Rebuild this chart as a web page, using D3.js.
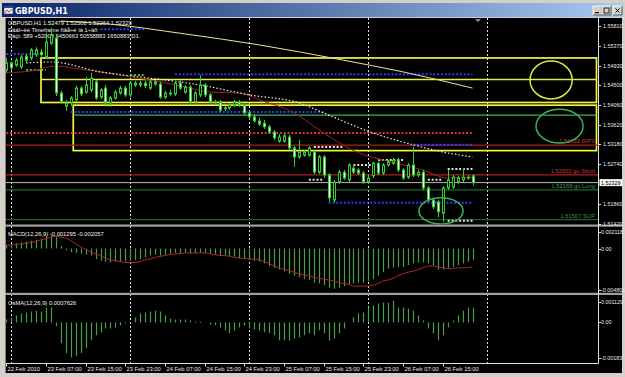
<!DOCTYPE html>
<html>
<head>
<meta charset="utf-8">
<script src="https://cdn.jsdelivr.net/npm/d3@7/dist/d3.min.js"></script>
<style>
  html, body { margin: 0; padding: 0; background: #d4d0c8; overflow: hidden; }
  svg { display: block; font-family: "Liberation Sans", Arial, sans-serif; }
</style>
</head>
<body>
<div id="chart"></div>
<script>
'use strict';

// ---- values (GBPUSD H1, bar 0 = 22 Feb 23:00) ----
var opens = [1.5483,1.5499,1.5494,1.5490,1.5514,1.5510,1.5517,1.5523,1.5512,1.5543,
  1.5554,1.5432,1.5403,1.5410,1.5417,1.5443,1.5434,1.5439,1.5457,1.5423,
  1.5443,1.5410,1.5421,1.5432,1.5443,1.5428,1.5454,1.5450,1.5454,1.5443,
  1.5457,1.5452,1.5423,1.5432,1.5430,1.5454,1.5434,1.5445,1.5412,1.5428,
  1.5450,1.5428,1.5410,1.5412,1.5399,1.5399,1.5405,1.5412,1.5405,1.5388,
  1.5379,1.5370,1.5365,1.5357,1.5345,1.5325,1.5325,1.5334,1.5310,1.5290,
  1.5294,1.5294,1.5301,1.5256,1.5290,1.5250,1.5194,1.5234,1.5256,1.5239,
  1.5265,1.5261,1.5254,1.5234,1.5248,1.5276,1.5254,1.5272,1.5276,1.5283,
  1.5261,1.5245,1.5272,1.5250,1.5256,1.5221,1.5194,1.5190,1.5165,1.5221,
  1.5223,1.5234,1.5239,1.5245,1.52479];
var highs = [1.5510,1.5503,1.5510,1.5517,1.5519,1.5532,1.5534,1.5530,1.5565,1.5577,
  1.5561,1.5437,1.5417,1.5425,1.5448,1.5448,1.5468,1.5477,1.5461,1.5443,
  1.5450,1.5425,1.5439,1.5448,1.5448,1.5459,1.5459,1.5459,1.5459,1.5463,
  1.5461,1.5457,1.5437,1.5439,1.5459,1.5461,1.5450,1.5450,1.5437,1.5472,
  1.5454,1.5432,1.5417,1.5417,1.5403,1.5410,1.5417,1.5417,1.5410,1.5392,
  1.5385,1.5377,1.5372,1.5361,1.5350,1.5341,1.5343,1.5339,1.5314,1.5328,
  1.5305,1.5314,1.5305,1.5294,1.5294,1.5254,1.5239,1.5261,1.5261,1.5276,
  1.5270,1.5265,1.5259,1.5248,1.5279,1.5279,1.5276,1.5283,1.5288,1.5288,
  1.5265,1.5276,1.5312,1.5261,1.5261,1.5225,1.5199,1.5194,1.5225,1.5261,
  1.5250,1.5248,1.5265,1.5250,1.52508];
var lows = [1.5477,1.5483,1.5490,1.5485,1.5501,1.5505,1.5512,1.5510,1.5508,1.5539,
  1.5425,1.5408,1.5392,1.5403,1.5412,1.5425,1.5430,1.5434,1.5417,1.5419,
  1.5405,1.5401,1.5417,1.5428,1.5423,1.5423,1.5445,1.5445,1.5443,1.5439,
  1.5448,1.5419,1.5419,1.5425,1.5425,1.5439,1.5430,1.5408,1.5408,1.5423,
  1.5423,1.5408,1.5405,1.5390,1.5392,1.5394,1.5401,1.5401,1.5383,1.5374,
  1.5366,1.5359,1.5352,1.5341,1.5328,1.5321,1.5321,1.5305,1.5268,1.5285,
  1.5290,1.5290,1.5252,1.5252,1.5243,1.5190,1.5188,1.5230,1.5239,1.5234,
  1.5252,1.5250,1.5230,1.5230,1.5243,1.5250,1.5250,1.5268,1.5272,1.5256,
  1.5239,1.5241,1.5245,1.5245,1.5216,1.5190,1.5174,1.5156,1.5145,1.5216,
  1.5219,1.5230,1.5234,1.5239,1.52264];
var closes = [1.5499,1.5488,1.5505,1.5512,1.5505,1.5528,1.5528,1.5517,1.5545,1.5561,
  1.5432,1.5412,1.5410,1.5421,1.5443,1.5430,1.5450,1.5465,1.5421,1.5439,
  1.5410,1.5421,1.5434,1.5443,1.5428,1.5454,1.5450,1.5454,1.5448,1.5457,
  1.5452,1.5423,1.5432,1.5430,1.5454,1.5443,1.5445,1.5412,1.5432,1.5450,
  1.5428,1.5412,1.5412,1.5394,1.5397,1.5405,1.5412,1.5405,1.5388,1.5379,
  1.5370,1.5363,1.5357,1.5345,1.5332,1.5334,1.5337,1.5310,1.5290,1.5301,
  1.5301,1.5310,1.5256,1.5290,1.5250,1.5199,1.5234,1.5256,1.5243,1.5272,
  1.5256,1.5254,1.5234,1.5243,1.5276,1.5254,1.5272,1.5279,1.5283,1.5261,
  1.5243,1.5272,1.5250,1.5256,1.5221,1.5194,1.5179,1.5168,1.5221,1.5239,
  1.5245,1.5243,1.5245,1.5243,1.52329];

var macdMain = [0.0004,0.0005,0.0006,0.0007,0.0008,0.0009,0.0010,0.0011,0.0014,0.0015,
  0.0013,0.0003,-0.0002,-0.0004,-0.0005,-0.0006,-0.0007,-0.0008,-0.0012,-0.0014,
  -0.0015,-0.0016,-0.0015,-0.0015,-0.0015,-0.0014,-0.0013,-0.0012,-0.0010,-0.0008,
  -0.0007,-0.0008,-0.0007,-0.0006,-0.0005,-0.0005,-0.0005,-0.0006,-0.0006,-0.0005,
  -0.0005,-0.0006,-0.0007,-0.0008,-0.0008,-0.0009,-0.0009,-0.0011,-0.0012,-0.0013,
  -0.0014,-0.0015,-0.0017,-0.0020,-0.0022,-0.0024,-0.0026,-0.0029,-0.0031,-0.0033,
  -0.0035,-0.0036,-0.0039,-0.0040,-0.0042,-0.0045,-0.0046,-0.0045,-0.0043,-0.0041,
  -0.0040,-0.0039,-0.0039,-0.0037,-0.0035,-0.0031,-0.0027,-0.0023,-0.0022,-0.0021,
  -0.0021,-0.0019,-0.0017,-0.0016,-0.0016,-0.0017,-0.0020,-0.0024,-0.0024,-0.0022,
  -0.0021,-0.0019,-0.0017,-0.0015,-0.0013];
var macdSignal = [0.0004,0.0004,0.0005,0.0005,0.0006,0.0007,0.0008,0.0010,0.0011,0.0013,
  0.0014,0.0013,0.0012,0.0009,0.0005,0.0002,-0.0001,-0.0004,-0.0006,-0.0008,
  -0.0011,-0.0013,-0.0014,-0.0015,-0.0016,-0.0016,-0.0016,-0.0015,-0.0013,-0.0012,
  -0.0010,-0.0009,-0.0008,-0.0007,-0.0006,-0.0006,-0.0005,-0.0005,-0.0005,-0.0005,
  -0.0005,-0.0006,-0.0007,-0.0008,-0.0008,-0.0009,-0.0010,-0.0011,-0.0011,-0.0012,
  -0.0012,-0.0013,-0.0015,-0.0017,-0.0020,-0.0022,-0.0024,-0.0025,-0.0027,-0.0029,
  -0.0030,-0.0031,-0.0033,-0.0034,-0.0035,-0.0036,-0.0037,-0.0039,-0.0040,-0.0041,
  -0.0043,-0.0043,-0.0043,-0.0043,-0.0042,-0.0040,-0.0037,-0.0036,-0.0034,-0.0031,
  -0.0029,-0.0027,-0.0026,-0.0024,-0.0022,-0.0020,-0.0020,-0.0021,-0.0022,-0.0023,
  -0.0023,-0.0022,-0.0022,-0.0022,-0.0021];
var osma = [0.00015,0.00026,0.00036,0.00046,0.00051,0.00056,0.00061,0.00056,0.00077,0.00077,
  -0.0002,-0.00107,-0.00158,-0.0018,-0.00173,-0.00158,-0.00133,-0.00092,-0.00066,-0.00051,
  -0.00031,-0.00031,-0.00026,-0.00015,-0.00005,0.00002,0.00026,0.00046,0.00051,0.00056,
  0.00061,0.00056,0.00036,0.0002,0.00015,0.00015,0.00015,0.0001,0.00005,0.00005,
  0.00001,-0.0001,-0.00015,-0.00026,-0.00041,-0.00056,-0.00041,-0.00026,-0.00015,-0.0003,
  -0.00036,-0.00041,-0.00051,-0.00056,-0.00066,-0.00092,-0.00092,-0.00092,-0.00082,-0.00077,
  -0.00066,-0.00056,-0.00066,-0.00041,-0.00056,-0.00092,-0.00082,-0.00056,-0.00031,-0.00001,
  0.00026,0.00046,0.00051,0.00077,0.00087,0.00097,0.00102,0.00102,0.00112,0.00077,
  0.00077,0.00071,0.00061,0.00036,0.0001,-0.00031,-0.00056,-0.00092,-0.00066,-0.00026,
  0.0001,0.00036,0.00061,0.00077,0.00076];

// moving averages, [bar, price]
var redMA = [[0,1.5477],[5,1.5481],[10,1.5492],[15,1.5485],[19,1.5479],[25,1.5468],[31,1.5457],
  [37,1.5443],[41,1.5434],[47,1.5432],[51,1.5417],[58,1.5388],[64,1.5343],[71,1.5299],
  [76,1.5283],[84,1.5261],[89,1.5243],[94,1.5245]];
var whiteMA = [[4,1.5499],[9,1.5501],[19,1.5479],[29,1.5465],[39,1.5450],[49,1.5428],[59,1.5410],
  [65,1.5383],[74,1.5343],[82,1.5317],[88,1.5301],[94,1.5290]];
var paleMA = [[11,1.5592],[21,1.5585],[35,1.5565],[51,1.5539],[68,1.5505],[80,1.5479],[94,1.5443]];

// horizontal lines with descriptions
var hLevels = [
  {price: 1.53163, text: '1.53163 RIPS', line: '#a82020', label: '#d03434'},
  {price: 1.52501, text: '1.52501 go Short', line: '#a82020', label: '#d03434'},
  {price: 1.52169, text: '1.52169 go Long', line: '#1f6a2a', label: '#3f9f5a'},
  {price: 1.51507, text: '1.51507 SUP', line: '#1f5f25', label: '#3a9450'}
];
var bidPrice = 1.52329;

// dotted level pieces: from bar, to bar, price
var dotLevels = [
  {from: 0, to: 7, price: 1.5519, color: '#2a3cff'},
  {from: 19, to: 28, price: 1.5574, color: '#2a3cff'},
  {from: 34, to: 94, price: 1.5474, color: '#2a3cff'},
  {from: 13, to: 64, price: 1.5390, color: '#2a3cff'},
  {from: 82, to: 94, price: 1.5317, color: '#2a3cff'},
  {from: 65, to: 94, price: 1.5188, color: '#2a3cff'},
  {from: 0, to: 94, price: 1.5343, color: '#e03030'},
  {from: 62, to: 68, price: 1.5312, color: '#e0e0e0'},
  {from: 61, to: 64, price: 1.5239, color: '#e0e0e0'},
  {from: 70, to: 74, price: 1.5272, color: '#e0e0e0'},
  {from: 75, to: 80, price: 1.5283, color: '#e0e0e0'},
  {from: 89, to: 94, price: 1.5263, color: '#e0e0e0'},
  {from: 89, to: 94, price: 1.5148, color: '#e0e0e0'},
  {from: 85, to: 88, price: 1.5239, color: '#e0e0e0'},
  {from: 4, to: 8, price: 1.5483, color: '#40c040'},
  {from: 25, to: 28, price: 1.5472, color: '#40c040'}
];

// drawn objects, anchored on bar / price
var boxes = [
  {from: 7, to: 119, top: 1.5510, bottom: 1.5411},
  {from: 13.5, to: 119, top: 1.5405, bottom: 1.5304}
];
var trendLines = [
  {from: 7, to: 119, price: 1.5462, color: '#e8f040'},
  {from: 13.5, to: 119, price: 1.5383, color: '#3cb05a'}
];
var ellipses = [
  {from: 105.6, to: 114.1, top: 1.5503, bottom: 1.5419, color: '#d4f048'},
  {from: 106.8, to: 116.3, top: 1.5396, bottom: 1.5321, color: '#3cb05a'},
  {from: 83.2, to: 92.1, top: 1.5199, bottom: 1.5141, color: '#3cb05a'}
];

var priceTicks = [1.55810, 1.55370, 1.54930, 1.54500, 1.54060, 1.53620, 1.53180, 1.52740, 1.51860, 1.51420];
var timeTicks = [[0, '22 Feb 2010'], [8, '23 Feb 07:00'], [16, '23 Feb 15:00'], [24, '23 Feb 23:00'],
  [32, '24 Feb 07:00'], [40, '24 Feb 15:00'], [48, '24 Feb 23:00'], [56, '25 Feb 07:00'],
  [64, '25 Feb 15:00'], [72, '25 Feb 23:00'], [80, '26 Feb 07:00'], [88, '26 Feb 15:00']];
var daySeparators = [1, 25, 49, 73, 97];
var macdTicks = [[0.002118, '0.002118'], [0, '0.00'], [-0.004801, '-0.004801']];
var osmaTicks = [[0.001129, '0.001129'], [0, '0.00'], [-0.00183, '-0.00183']];

var headerLines = [
  'GBPUSD,H1  1.52479 1.52508 1.52264 1.52329',
  'Ðàáî÷èé Timeframe ñâå÷è íà 1÷àñ',
  'Ðàçì: 589 +52000 3450663 50558883 1650883 D1.'
];

// ---- drawing ----
var W = 625, H = 377;
var svg = d3.select('#chart').append('svg').attr('width', W).attr('height', H);
var defs = svg.append('defs');

var grad = defs.append('linearGradient').attr('id', 'titlebar');
grad.append('stop').attr('offset', '0%').attr('stop-color', '#0a246a');
grad.append('stop').attr('offset', '100%').attr('stop-color', '#a6caf0');

function clip(id, y0, y1) {
  defs.append('clipPath').attr('id', id).append('rect')
    .attr('x', 6).attr('y', y0).attr('width', 592).attr('height', y1 - y0);
}
clip('clipMain', 18, 224.5);
clip('clipMacd', 227, 293);
clip('clipOsma', 295, 363);

// window frame + title bar
svg.append('rect').attr('width', W).attr('height', H).attr('fill', '#d4d0c8');
svg.append('rect').attr('x', 2).attr('y', 3).attr('width', 621).attr('height', 14).attr('fill', 'url(#titlebar)');
var icon = svg.append('g');
icon.append('rect').attr('x', 4).attr('y', 6).attr('width', 9).attr('height', 8).attr('fill', '#e8e8e8').attr('stroke', '#404040').attr('stroke-width', 0.6);
icon.append('rect').attr('x', 4).attr('y', 6).attr('width', 9).attr('height', 2).attr('fill', '#1c48a8');
icon.append('path').attr('d', 'M5,13 L7,10 L9,12 L12,9').attr('fill', 'none').attr('stroke', '#c02020').attr('stroke-width', 0.8);
svg.append('text').attr('x', 15).attr('y', 14).attr('fill', '#fff')
  .style('font', 'bold 8px "DejaVu Sans", sans-serif').text('GBPUSD,H1');

[593, 602, 613].forEach(function(bx, k) {
  var b = svg.append('g');
  b.append('rect').attr('x', bx).attr('y', 6).attr('width', 9).attr('height', 9).attr('fill', '#d4d0c8');
  b.append('path').attr('d', 'M' + bx + ',15 V6 H' + (bx + 9)).attr('stroke', '#fff').attr('fill', 'none').attr('stroke-width', 0.8);
  b.append('path').attr('d', 'M' + bx + ',15 H' + (bx + 9) + ' V6').attr('stroke', '#404040').attr('fill', 'none').attr('stroke-width', 0.8);
  if (k === 0) b.append('rect').attr('x', bx + 2).attr('y', 12).attr('width', 4).attr('height', 1.2).attr('fill', '#000');
  if (k === 1) b.append('rect').attr('x', bx + 2).attr('y', 8).attr('width', 5).attr('height', 5).attr('fill', 'none').attr('stroke', '#000').attr('stroke-width', 0.8);
  if (k === 2) b.append('path').attr('d', 'M' + (bx + 2.5) + ',8.5 l4,4 M' + (bx + 6.5) + ',8.5 l-4,4').attr('stroke', '#000').attr('stroke-width', 1);
});

// black chart surface
svg.append('rect').attr('x', 5).attr('y', 18).attr('width', 617).attr('height', 355).attr('fill', '#000');
svg.append('line').attr('x1', 5.5).attr('x2', 5.5).attr('y1', 18).attr('y2', 373).attr('stroke', '#808080');

var x = d3.scaleLinear().domain([0, 94]).range([6.3, 472.5]);
var y = d3.scaleLinear().domain([1.51420, 1.55810]).range([223.5, 26]);
var yMacd = d3.scaleLinear().domain([-0.004801, 0.002118]).range([290.5, 230]);
var yOsma = d3.scaleLinear().domain([-0.00183, 0.001129]).range([358, 300.5]);
function px(i) { return Math.round(x(i)) + 0.5; }

var bars = d3.range(opens.length).map(function(i) {
  return {i: i, o: opens[i], h: highs[i], l: lows[i], c: closes[i]};
});

// day separators through all panels
svg.selectAll('.sep').data(daySeparators).enter().append('line')
  .attr('x1', function(d) { return px(d); }).attr('x2', function(d) { return px(d); })
  .attr('y1', 18).attr('y2', 363)
  .attr('stroke', '#e0e0e0').attr('stroke-dasharray', '2,2');

var main = svg.append('g').attr('clip-path', 'url(#clipMain)');

// header text
main.selectAll('.hdr').data(headerLines).enter().append('text')
  .attr('x', 8).attr('y', function(d, k) { return 25 + k * 6.6; })
  .attr('fill', '#f0f0f0').style('font-size', '5.8px').text(function(d) { return d; });

// boxes and lines drawn on the chart
main.selectAll('.box').data(boxes).enter().append('rect')
  .attr('x', function(d) { return x(d.from); })
  .attr('y', function(d) { return y(d.top); })
  .attr('width', function(d) { return x(d.to) - x(d.from); })
  .attr('height', function(d) { return y(d.bottom) - y(d.top); })
  .attr('fill', 'none').attr('stroke', '#f4f440').attr('stroke-width', 1.7);

main.selectAll('.tl').data(trendLines).enter().append('line')
  .attr('x1', function(d) { return x(d.from); }).attr('x2', function(d) { return x(d.to); })
  .attr('y1', function(d) { return y(d.price); }).attr('y2', function(d) { return y(d.price); })
  .attr('stroke', function(d) { return d.color; }).attr('stroke-width', 1.4);

main.selectAll('.hl').data(hLevels).enter().append('line')
  .attr('x1', 6).attr('x2', 598)
  .attr('y1', function(d) { return y(d.price); }).attr('y2', function(d) { return y(d.price); })
  .attr('stroke', function(d) { return d.line; }).attr('stroke-width', 1.2);

main.selectAll('.hlt').data(hLevels).enter().append('text')
  .attr('x', 595).attr('y', function(d) { return y(d.price) - 2; })
  .attr('text-anchor', 'end').attr('fill', function(d) { return d.label; })
  .style('font-size', '5.8px').text(function(d) { return d.text; });

main.append('line').attr('x1', 6).attr('x2', 598)
  .attr('y1', y(bidPrice)).attr('y2', y(bidPrice))
  .attr('stroke', '#b8b8b8').attr('stroke-width', 1);

main.selectAll('.dl').data(dotLevels).enter().append('line')
  .attr('x1', function(d) { return x(d.from); }).attr('x2', function(d) { return x(d.to); })
  .attr('y1', function(d) { return y(d.price); }).attr('y2', function(d) { return y(d.price); })
  .attr('stroke', function(d) { return d.color; })
  .attr('stroke-width', 2).attr('stroke-dasharray', '2,1.8');

// moving averages
var maLine = d3.line().x(function(d) { return x(d[0]); }).y(function(d) { return y(d[1]); }).curve(d3.curveMonotoneX);
main.append('path').attr('d', maLine(paleMA)).attr('fill', 'none').attr('stroke', '#e6e6a0').attr('stroke-width', 1);
main.append('path').attr('d', maLine(redMA)).attr('fill', 'none').attr('stroke', '#a02020').attr('stroke-width', 1);
main.append('path').attr('d', maLine(whiteMA)).attr('fill', 'none').attr('stroke', '#e8e8e8')
  .attr('stroke-width', 1.2).attr('stroke-dasharray', '1.5,2');

// candles
var candle = main.selectAll('.candle').data(bars).enter().append('g');
candle.append('line')
  .attr('x1', function(d) { return px(d.i); }).attr('x2', function(d) { return px(d.i); })
  .attr('y1', function(d) { return y(d.h); }).attr('y2', function(d) { return y(d.l); })
  .attr('stroke', '#30d030');
candle.append('rect')
  .attr('x', function(d) { return px(d.i) - 1; })
  .attr('y', function(d) { return y(Math.max(d.o, d.c)); })
  .attr('width', 2)
  .attr('height', function(d) { return Math.max(0.8, Math.abs(y(d.o) - y(d.c))); })
  .attr('fill', function(d) { return d.c < d.o ? '#ffffff' : '#000000'; })
  .attr('stroke', '#30d030').attr('stroke-width', 1);

// ellipses
main.selectAll('.ell').data(ellipses).enter().append('ellipse')
  .attr('cx', function(d) { return (x(d.from) + x(d.to)) / 2; })
  .attr('cy', function(d) { return (y(d.top) + y(d.bottom)) / 2; })
  .attr('rx', function(d) { return (x(d.to) - x(d.from)) / 2; })
  .attr('ry', function(d) { return (y(d.bottom) - y(d.top)) / 2; })
  .attr('fill', 'none').attr('stroke', function(d) { return d.color; }).attr('stroke-width', 1.5);

// chart shift marker
svg.append('path').attr('d', 'M475,19 L481,19 L478,22 Z').attr('fill', '#909090');

// MACD panel
var macd = svg.append('g').attr('clip-path', 'url(#clipMacd)');
macd.selectAll('.mh').data(macdMain).enter().append('line')
  .attr('x1', function(d, i) { return px(i); }).attr('x2', function(d, i) { return px(i); })
  .attr('y1', yMacd(0)).attr('y2', function(d) { return yMacd(d); })
  .attr('stroke', '#4a9e4a').attr('stroke-width', 1.2);
macd.append('path')
  .attr('d', d3.line().x(function(d, i) { return x(i); }).y(function(d) { return yMacd(d); })(macdSignal))
  .attr('fill', 'none').attr('stroke', '#b02424').attr('stroke-width', 1);
macd.append('text').attr('x', 8).attr('y', 235.5).attr('fill', '#f0f0f0').style('font-size', '5.8px')
  .text('MACD(12,26,9) -0.001295 -0.002057');

// OsMA panel
var os = svg.append('g').attr('clip-path', 'url(#clipOsma)');
os.selectAll('.oh').data(osma).enter().append('line')
  .attr('x1', function(d, i) { return px(i); }).attr('x2', function(d, i) { return px(i); })
  .attr('y1', yOsma(0)).attr('y2', function(d) { return yOsma(d); })
  .attr('stroke', '#4a9e4a').attr('stroke-width', 1.2);
os.append('text').attr('x', 8).attr('y', 304.5).attr('fill', '#f0f0f0').style('font-size', '5.8px')
  .text('OsMA(12,26,9) 0.0007626');

// panel separators and borders
[224.5, 292.8].forEach(function(sy) {
  svg.append('rect').attr('x', 5).attr('y', sy).attr('width', 617).attr('height', 2.2).attr('fill', '#a0a0a0');
});
svg.append('line').attr('x1', 598.5).attr('x2', 598.5).attr('y1', 18).attr('y2', 363.5).attr('stroke', '#e0e0e0');
svg.append('line').attr('x1', 6).attr('x2', 598.5).attr('y1', 363.5).attr('y2', 363.5).attr('stroke', '#e0e0e0');

// price axis
var pAxis = svg.append('g');
pAxis.selectAll('.pt').data(priceTicks).enter().append('line')
  .attr('x1', 598).attr('x2', 601).attr('y1', function(d) { return Math.round(y(d)) + 0.5; })
  .attr('y2', function(d) { return Math.round(y(d)) + 0.5; }).attr('stroke', '#e0e0e0');
pAxis.selectAll('.pl').data(priceTicks).enter().append('text')
  .attr('x', 603).attr('y', function(d) { return y(d) + 2; })
  .attr('fill', '#e8e8e8').style('font-size', '5.4px').text(function(d) { return d.toFixed(5); });
pAxis.append('rect').attr('x', 599.5).attr('y', y(bidPrice) - 3.5).attr('width', 23).attr('height', 7)
  .attr('fill', '#f4f4f4');
pAxis.append('text').attr('x', 601).attr('y', y(bidPrice) + 2).attr('fill', '#000')
  .style('font-size', '5.4px').text(bidPrice.toFixed(5));

function indicatorAxis(ticks, scale) {
  ticks.forEach(function(t, k) {
    var ty = scale(t[0]);
    if (k === 0) ty += 1.5;
    if (k === ticks.length - 1) ty -= 0.5;
    svg.append('line').attr('x1', 598).attr('x2', 601).attr('y1', Math.round(ty) + 0.5).attr('y2', Math.round(ty) + 0.5)
      .attr('stroke', '#e0e0e0');
    svg.append('text').attr('x', 601).attr('y', ty + 2).attr('fill', '#e8e8e8')
      .style('font-size', '5.4px').text(t[1]);
  });
}
indicatorAxis(macdTicks, yMacd);
indicatorAxis(osmaTicks, yOsma);

// time axis
svg.selectAll('.tt').data(timeTicks).enter().append('line')
  .attr('x1', function(d) { return px(d[0]); }).attr('x2', function(d) { return px(d[0]); })
  .attr('y1', 363).attr('y2', 366.5).attr('stroke', '#e0e0e0');
svg.selectAll('.tlab').data(timeTicks).enter().append('text')
  .attr('x', function(d) { return px(d[0]) + 1; }).attr('y', 371)
  .attr('fill', '#e8e8e8').style('font-size', '5.8px').text(function(d) { return d[1]; });
</script>
</body>
</html>
